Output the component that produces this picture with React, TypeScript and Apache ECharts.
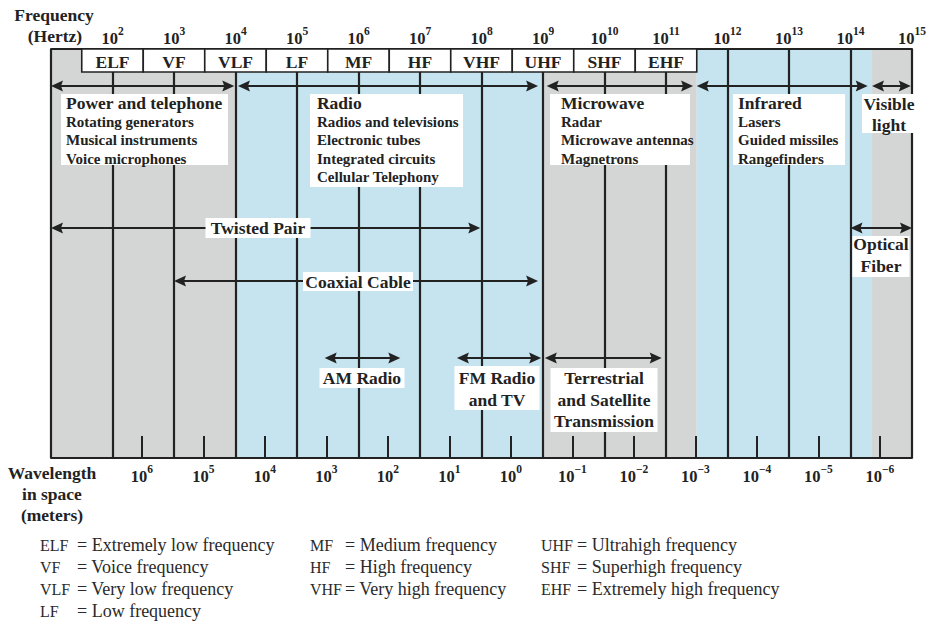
import React, { useEffect, useRef } from "react";
import * as echarts from "echarts";

const SERIF = '"Liberation Serif", "Times New Roman", Times, serif';
const INK = "#222222";
const GRAY = "#d4d5d5";
const BLUE = "#c5e4f0";

// ---------------- data ----------------
const freqMinExp = 1; // log10(Hz)
const freqMaxExp = 15;
const wavelengthExps = [6, 5, 4, 3, 2, 1, 0, -1, -2, -3, -4, -5, -6]; // log10(m)
const speedOfLight = 3e8;

// shaded spectrum regions, log10(Hz)
const regionStart = [1, 4, 9, 11.5, 14.35];
const regionEnd = [4, 9, 11.5, 14.35, 15];
const regionShade = ["gray", "blue", "gray", "blue", "gray"];

// band designations, centred on decades
const bandNames = ["ELF", "VF", "VLF", "LF", "MF", "HF", "VHF", "UHF", "SHF", "EHF"];
const bandCenterExps = [2, 3, 4, 5, 6, 7, 8, 9, 10, 11];

// double-headed spans, log10(Hz)
const spanNames = [
  "Power and telephone", "Radio", "Microwave", "Infrared", "Visible light",
  "Twisted Pair", "Coaxial Cable", "Optical Fiber",
  "AM Radio", "FM Radio and TV", "Terrestrial and Satellite Transmission",
];
const spanStart = [1, 4.04, 9.06, 11.5, 14.35, 1, 3, 14, 5.45, 7.6, 9.03];
const spanEnd = [3.98, 8.92, 11.44, 14.28, 14.98, 7.98, 8.92, 15, 6.68, 8.97, 10.93];

// label texts
const labelLines = [
  ["Power and telephone", "Rotating generators", "Musical instruments", "Voice microphones"],
  ["Radio", "Radios and televisions", "Electronic tubes", "Integrated circuits", "Cellular Telephony"],
  ["Microwave", "Radar", "Microwave antennas", "Magnetrons"],
  ["Infrared", "Lasers", "Guided missiles", "Rangefinders"],
  ["Visible", "light"],
  ["Twisted Pair"],
  ["Coaxial Cable"],
  ["Optical", "Fiber"],
  ["AM Radio"],
  ["FM Radio", "and TV"],
  ["Terrestrial", "and Satellite", "Transmission"],
];

const legendAbbr = ["ELF", "VF", "VLF", "LF", "MF", "HF", "VHF", "UHF", "SHF", "EHF"];
const legendMeaning = [
  "Extremely low frequency", "Voice frequency", "Very low frequency", "Low frequency",
  "Medium frequency", "High frequency", "Very high frequency",
  "Ultrahigh frequency", "Superhigh frequency", "Extremely high frequency",
];
const legendColumn = [0, 0, 0, 0, 1, 1, 1, 2, 2, 2];
const legendRow = [0, 1, 2, 3, 0, 1, 2, 0, 1, 2];

// ---------------- layout ----------------
const W = 935;
const H = 623;
const GRID = { left: 51, right: 23, top: 49, bottom: 165 };
const PLOT_H = H - GRID.top - GRID.bottom; // y axis in px from plot top
const HEADER_H = 23;
const spanRowY = [37, 37, 37, 37, 37, 179, 232, 179, 309, 309, 309];
const labelBoxes = [
  { x: 1.163, y: 45, w: 167, h: 71, align: "left", pad: 5, first: 9, gap: 18.6, sub: true },
  { x: 5.211, y: 45, w: 153, h: 93, align: "left", pad: 7, first: 9, gap: 18.6, sub: true },
  { x: 9.114, y: 45, w: 140, h: 71, align: "left", pad: 11, first: 9, gap: 18.6, sub: true },
  { x: 12.089, y: 45, w: 112, h: 71, align: "left", pad: 5, first: 9, gap: 18.6, sub: true },
  { x: 14.626, y: 45, w: 54, h: 39, align: "center", pad: 0, first: 9.5, gap: 21, sub: false },
  { x: 4.366, y: 169, w: 105, h: 20, align: "center", pad: 0, first: 10, gap: 0, sub: false },
  { x: 5.992, y: 223, w: 110, h: 19, align: "center", pad: 0, first: 9.5, gap: 0, sub: false },
  { x: 14.496, y: 187, w: 57, h: 41, align: "center", pad: 0, first: 8, gap: 22, sub: false },
  { x: 6.057, y: 319, w: 85, h: 20, align: "center", pad: 0, first: 10, gap: 0, sub: false },
  { x: 8.252, y: 317, w: 85, h: 44, align: "center", pad: 0, first: 12, gap: 22, sub: false },
  { x: 9.992, y: 319, w: 107, h: 64, align: "center", pad: 0, first: 10, gap: 21.5, sub: false },
];
const legendColX = [40, 310, 541];
const legendEqX = [77, 345, 577];
const legendRowY = [545, 567, 589, 611];

const TITLE_FONT = `bold 17.5px ${SERIF}`;
const SUB_FONT = `bold 15px ${SERIF}`;

const supRich = {
  b: { fontFamily: SERIF, fontSize: 16.5, fontWeight: "bold", color: INK, lineHeight: 22, verticalAlign: "bottom" },
  s: { fontFamily: SERIF, fontSize: 11.5, fontWeight: "bold", color: INK, lineHeight: 12, verticalAlign: "top" },
};

const fmtExp = (e: number) => (e < 0 ? "\u2212" + Math.abs(e) : String(e));

function buildOption() {
  const lightLog = Math.log10(speedOfLight);
  const wavelengthPos = wavelengthExps.map((e) => lightLog - e);

  const regionSeries = {
    type: "custom",
    name: "regions",
    z: 1,
    silent: true,
    data: regionStart.map((s, i) => [s, regionEnd[i], i]),
    renderItem: (params: any, api: any) => {
      const i = params.dataIndex;
      const a = api.coord([api.value(0), 0]);
      const b = api.coord([api.value(1), PLOT_H]);
      return {
        type: "rect",
        shape: { x: a[0], y: a[1], width: b[0] - a[0], height: b[1] - a[1] },
        style: { fill: regionShade[i] === "gray" ? GRAY : BLUE },
      };
    },
  };

  const headerSeries = {
    type: "custom",
    name: "bands",
    z: 4,
    silent: true,
    data: bandCenterExps.map((c, i) => [c, i]),
    renderItem: (params: any, api: any) => {
      const i = params.dataIndex;
      const c = api.value(0);
      const a = api.coord([c - 0.5, 0]);
      const b = api.coord([c + 0.5, HEADER_H]);
      return {
        type: "group",
        children: [
          {
            type: "rect",
            shape: { x: a[0], y: a[1], width: b[0] - a[0], height: b[1] - a[1] },
            style: { fill: "#ffffff", stroke: INK, lineWidth: 1.6 },
          },
          {
            type: "text",
            style: {
              text: bandNames[i],
              x: (a[0] + b[0]) / 2,
              y: (a[1] + b[1]) / 2 + 1,
              font: TITLE_FONT,
              fill: INK,
              textAlign: "center",
              textVerticalAlign: "middle",
            },
          },
        ],
      };
    },
  };

  const spanSeries = {
    type: "custom",
    name: "spans",
    z: 4,
    silent: true,
    data: spanStart.map((s, i) => [s, spanEnd[i], spanRowY[i]]),
    renderItem: (params: any, api: any) => {
      const row = api.value(2);
      const p0 = api.coord([api.value(0), row]);
      const p1 = api.coord([api.value(1), row]);
      const L = 12;
      const HW = 5.5;
      return {
        type: "group",
        children: [
          {
            type: "line",
            shape: { x1: p0[0] + 3, y1: p0[1], x2: p1[0] - 3, y2: p1[1] },
            style: { stroke: INK, lineWidth: 2.2 },
          },
          {
            type: "polygon",
            shape: { points: [[p0[0], p0[1]], [p0[0] + L, p0[1] - HW], [p0[0] + L - 2, p0[1]], [p0[0] + L, p0[1] + HW]] },
            style: { fill: INK },
          },
          {
            type: "polygon",
            shape: { points: [[p1[0], p1[1]], [p1[0] - L, p1[1] - HW], [p1[0] - L + 2, p1[1]], [p1[0] - L, p1[1] + HW]] },
            style: { fill: INK },
          },
        ],
      };
    },
  };

  const labelSeries = {
    type: "custom",
    name: "labels",
    z: 5,
    silent: true,
    data: labelBoxes.map((b, i) => [b.x, b.y, i]),
    renderItem: (params: any, api: any) => {
      const i = params.dataIndex;
      const L = labelBoxes[i];
      const p = api.coord([api.value(0), api.value(1)]);
      const left = L.align === "left" ? p[0] : p[0] - L.w / 2;
      const children: any[] = [
        { type: "rect", shape: { x: left, y: p[1], width: L.w, height: L.h }, style: { fill: "#ffffff" } },
      ];
      labelLines[i].forEach((t, k) => {
        children.push({
          type: "text",
          style: {
            text: t,
            x: L.align === "left" ? left + L.pad : p[0],
            y: p[1] + L.first + k * L.gap,
            font: L.sub && k > 0 ? SUB_FONT : TITLE_FONT,
            fill: INK,
            textAlign: L.align,
            textVerticalAlign: "middle",
          },
        });
      });
      return { type: "group", children };
    },
  };

  const graphic: any[] = [];
  const sideText = (text: string, x: number, y: number) =>
    graphic.push({
      type: "text",
      x,
      y,
      silent: true,
      style: { text, font: `bold 17.5px ${SERIF}`, fill: INK, textAlign: "center", textVerticalAlign: "middle" },
    });
  sideText("Frequency", 54, 15);
  sideText("(Hertz)", 55, 36);
  sideText("Wavelength", 52, 473);
  sideText("in space", 52, 494);
  sideText("(meters)", 52, 515);

  legendAbbr.forEach((abbr, i) => {
    const col = legendColumn[i];
    const y = legendRowY[legendRow[i]];
    graphic.push({
      type: "text",
      x: legendColX[col],
      y,
      silent: true,
      style: { text: abbr, font: `16px ${SERIF}`, fill: "#2a2a2a", textAlign: "left", textVerticalAlign: "middle" },
    });
    graphic.push({
      type: "text",
      x: legendEqX[col],
      y,
      silent: true,
      style: {
        text: "= " + legendMeaning[i],
        font: `18px ${SERIF}`,
        fill: "#2a2a2a",
        textAlign: "left",
        textVerticalAlign: "middle",
      },
    });
  });

  return {
    animation: false,
    backgroundColor: "#ffffff",
    grid: { ...GRID, containLabel: false, outerBoundsMode: "none" },
    xAxis: [
      {
        type: "value",
        position: "top",
        min: freqMinExp,
        max: freqMaxExp,
        interval: 1,
        z: 3,
        axisLine: { show: true, lineStyle: { color: INK, width: 2 } },
        axisTick: { show: false },
        splitLine: { show: true, lineStyle: { color: INK, width: 2.2 } },
        axisLabel: {
          margin: 2.5,
          formatter: (v: number) => (v <= freqMinExp ? "" : `{b|10}{s|${fmtExp(v)}}`),
          rich: supRich,
        },
      },
      {
        type: "value",
        position: "bottom",
        min: freqMinExp,
        max: freqMaxExp,
        interval: 1,
        z: 3,
        axisLine: { show: true, lineStyle: { color: INK, width: 2 } },
        axisTick: {
          show: true,
          inside: true,
          length: 22,
          customValues: wavelengthPos,
          lineStyle: { color: INK, width: 2 },
        },
        splitLine: { show: false },
        axisLabel: {
          margin: 5,
          customValues: wavelengthPos,
          formatter: (v: number) => `{b|10}{s|${fmtExp(Math.round(lightLog - v))}}`,
          rich: supRich,
        },
      },
    ],
    yAxis: { type: "value", min: 0, max: PLOT_H, inverse: true, show: false },
    graphic,
    series: [regionSeries, headerSeries, spanSeries, labelSeries],
  };
}

export default function App() {
  const ref = useRef<HTMLDivElement>(null);
  useEffect(() => {
    if (!ref.current) return;
    const chart = echarts.init(ref.current, undefined, { renderer: "svg" });
    chart.setOption(buildOption() as any);
    return () => chart.dispose();
  }, []);
  return (
    <div
      ref={ref}
      style={{ position: "fixed", left: 0, top: 0, width: W, height: H, background: "#ffffff" }}
    />
  );
}
